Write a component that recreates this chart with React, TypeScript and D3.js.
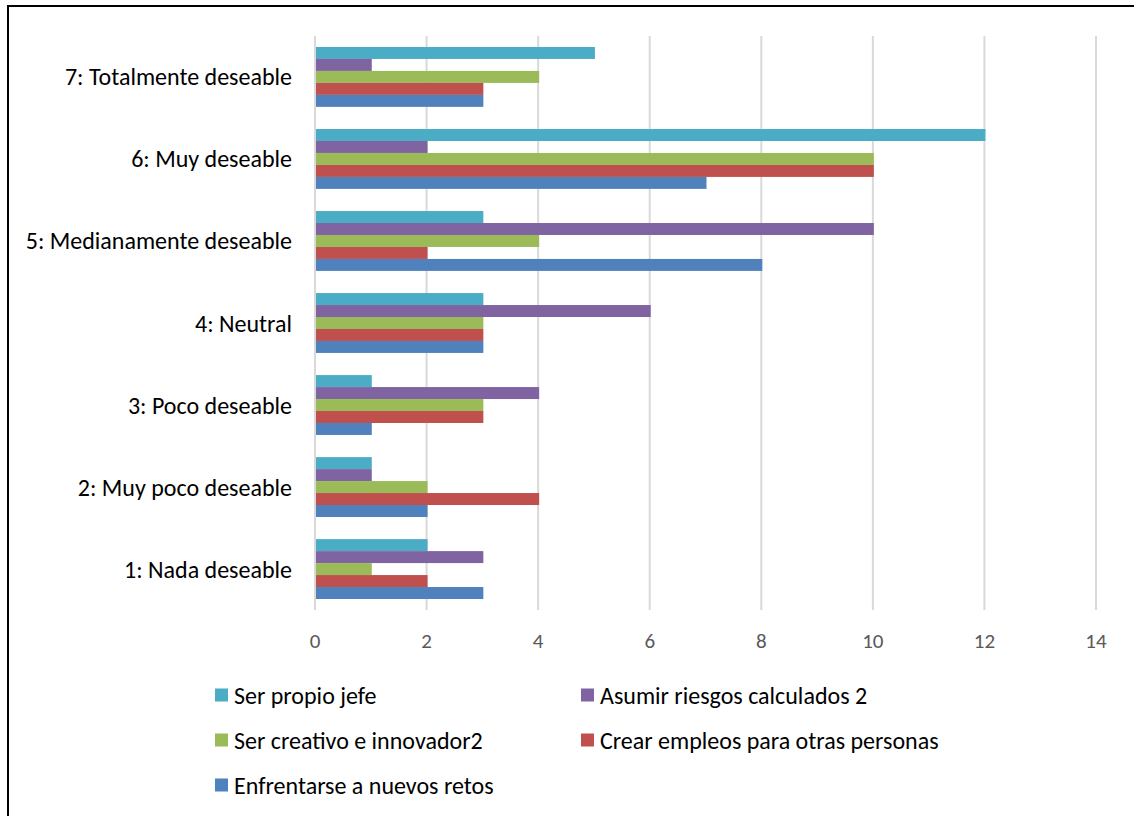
import React from "react";
import * as d3 from "d3";

// Categories, top to bottom
const categories = [
  "7: Totalmente deseable",
  "6: Muy deseable",
  "5: Medianamente deseable",
  "4: Neutral",
  "3: Poco deseable",
  "2: Muy poco deseable",
  "1: Nada deseable",
];

// Series in the order they are stacked within each group (top to bottom)
const seriesNames = [
  "Ser propio jefe",
  "Asumir riesgos calculados 2",
  "Ser creativo e innovador2",
  "Crear empleos para otras personas",
  "Enfrentarse a nuevos retos",
];

const seriesColors = ["#4BACC6", "#8064A2", "#9BBB59", "#C0504D", "#4F81BD"];

// Values per series, aligned with categories (7 → 1)
const serPropioJefe = [5, 12, 3, 3, 1, 1, 2];
const asumirRiesgos = [1, 2, 10, 6, 4, 1, 3];
const serCreativo = [4, 10, 4, 3, 3, 2, 1];
const crearEmpleos = [3, 10, 2, 3, 3, 4, 2];
const enfrentarse = [3, 7, 8, 3, 1, 2, 3];

const seriesValues = [serPropioJefe, asumirRiesgos, serCreativo, crearEmpleos, enfrentarse];

const xTicks = [0, 2, 4, 6, 8, 10, 12, 14];

// Legend layout: two columns, filled row by row
const legendOrder = [0, 1, 2, 3, 4];

const W = 1134;
const H = 816;
const FONT = "Carlito, Calibri, Lato, sans-serif";

export default function App() {
  const x = d3.scaleLinear().domain([0, 14]).range([315, 1096]);
  const y = d3
    .scaleBand<string>()
    .domain(categories)
    .range([36, 610])
    .paddingInner(0.27)
    .paddingOuter(0.134);
  const inner = d3
    .scaleBand<string>()
    .domain(seriesNames)
    .range([0, y.bandwidth()]);

  const legendCols = [215, 581];
  const legendRows = [695, 740, 785];

  return (
    <svg
      width={W}
      height={H}
      style={{ position: "absolute", left: 0, top: 0, background: "#fff" }}
      fontFamily={FONT}
    >
      <rect x={0} y={0} width={W} height={H} fill="#fff" />
      {/* outer frame */}
      <rect x={8} y={6} width={W + 20} height={H + 20} fill="none" stroke="#000" strokeWidth={2} />

      {/* vertical gridlines */}
      {xTicks.map((t) => (
        <line
          key={"g" + t}
          x1={x(t)}
          x2={x(t)}
          y1={36}
          y2={610}
          stroke="#D9D9D9"
          strokeWidth={2}
        />
      ))}

      {/* bars */}
      {categories.map((c, ci) => (
        <g key={c} transform={`translate(0,${y(c)})`}>
          {seriesNames.map((s, si) => (
            <rect
              key={s}
              x={x(0) + 1}
              y={inner(s)}
              width={Math.max(0, x(seriesValues[si][ci]) - x(0))}
              height={inner.bandwidth()}
              fill={seriesColors[si]}
            />
          ))}
        </g>
      ))}

      {/* category labels */}
      {categories.map((c) => (
        <text
          key={"l" + c}
          x={292}
          y={(y(c) ?? 0) + y.bandwidth() / 2}
          textAnchor="end"
          dominantBaseline="central"
          fontSize={24}
          fill="#000"
        >
          {c}
        </text>
      ))}

      {/* x tick labels */}
      {xTicks.map((t) => (
        <text
          key={"t" + t}
          x={x(t)}
          y={641}
          textAnchor="middle"
          dominantBaseline="central"
          fontSize={21}
          fill="#595959"
        >
          {t}
        </text>
      ))}

      {/* legend */}
      {legendOrder.map((si, i) => {
        const lx = legendCols[i % 2];
        const ly = legendRows[Math.floor(i / 2)];
        return (
          <g key={"lg" + si}>
            <rect x={lx} y={ly - 6.5} width={13} height={13} fill={seriesColors[si]} />
            <text x={lx + 19} y={ly} dominantBaseline="central" fontSize={24} fill="#000">
              {seriesNames[si]}
            </text>
          </g>
        );
      })}
    </svg>
  );
}
